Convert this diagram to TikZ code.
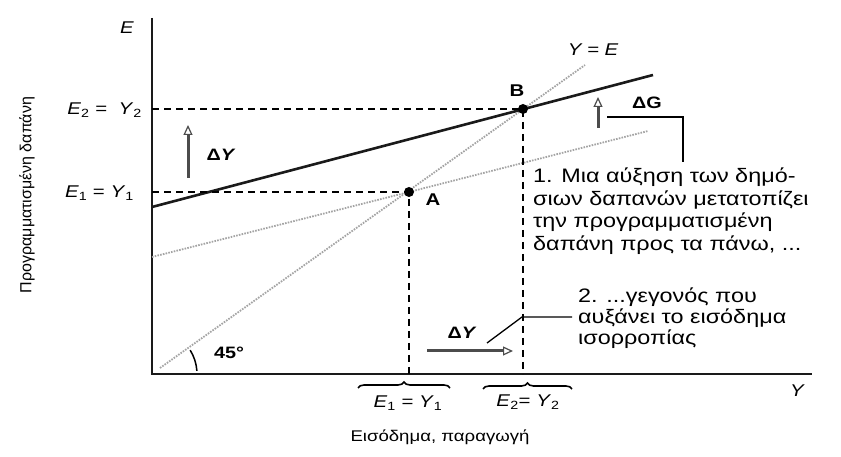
\documentclass[tikz,border=0pt]{standalone}
\usepackage{fontspec}
\setmainfont[FakeStretch=1.2]{Liberation Sans}
\newfontfamily\plainsf{Liberation Sans}
\usepackage{tikz}
\usetikzlibrary{arrows.meta,positioning,decorations.pathreplacing}
\usepackage{xcolor}
\definecolor{faint}{HTML}{A4A4A4}
\definecolor{darkline}{HTML}{1A1A1A}
\newcommand{\ivar}[2]{\textit{#1}\textsubscript{#2}}

\begin{document}
\begin{tikzpicture}[
  x=1pt, y=1pt,
  axis/.style={line width=2.2pt, color=darkline},
  guide/.style={line width=1.5pt, dash pattern=on 7pt off 5pt},
  faintline/.style={line width=1.8pt, color=faint, dash pattern=on 1.6pt off 1.2pt},
  spend/.style={line width=2.6pt, color=darkline},
  shiftarrow/.style={-{Triangle[open, length=10pt, width=9pt, line width=1.2pt]}, line width=3pt, color=black!70},
  leader/.style={line width=1.3pt},
  dot/.style={circle, fill=black, inner sep=0pt, minimum size=10pt},
  lbl/.style={font=\fontsize{17}{17}\selectfont, inner sep=1pt},
  bold/.style={font=\fontsize{16.5}{16.5}\selectfont\bfseries, inner sep=1pt},
  note/.style={font=\fontsize{19.5}{22.5}\selectfont, align=left, anchor=north west, inner sep=0pt},
  curly/.style={decorate, decoration={brace, amplitude=6pt}, line width=1.6pt},
]
\useasboundingbox (0,0) rectangle (841,457);

% axes
\coordinate (O) at (152,83);
\coordinate (ytop) at (152,439);
\coordinate (xend) at (812,83);
\draw[axis] (ytop) -- (O) -- (xend);
\node[lbl, font=\fontsize{17}{17}\selectfont\itshape] (Elab) at (127,429) {E};
\node[lbl, font=\fontsize{17}{17}\selectfont\itshape] (Ylab) at (797,66) {Y};

% equilibrium points
\coordinate (A) at (409,265);
\coordinate (B) at (523,348);

% 45 degree line and the two spending lines
\coordinate (d0) at (160,89);
\coordinate (d1) at (585,392);
\draw[faintline] (d0) -- (d1);
\coordinate (ad0) at (152,200);
\coordinate (ad1) at (648,326);
\draw[faintline] (ad0) -- (A) -- (ad1);
\coordinate (sp0) at (152,250);
\coordinate (sp1) at (653,382);
\draw[spend] (sp0) -- (sp1);

% dashed guides
\draw[guide] (O |- A) -- (A) -- (A |- O);
\draw[guide] (O |- B) -- (B) -- (B |- O);

\node[dot] (dotA) at (A) {};
\node[dot] (dotB) at (B) {};
\node[bold, font=\fontsize{17}{17}\selectfont\bfseries] (Alab) at (433,257) {A};
\node[bold, font=\fontsize{17}{17}\selectfont\bfseries] (Blab) at (517,366) {B};
\node[lbl, font=\fontsize{17}{17}\selectfont\itshape] (yeqe) at (593,407) {Y\,\,=\,\,E};

% left labels
\node[lbl, anchor=east] (E2lab) at (143,347) {\ivar{E}{2}\,\,=\,\,\,\,\ivar{Y}{2}};
\node[lbl, anchor=east] (E1lab) at (135,264) {\ivar{E}{1} = \ivar{Y}{1}};

% shifts
\coordinate (dy0) at (188,279);
\coordinate (dy1) at (188,332);
\draw[shiftarrow] (dy0) -- (dy1);
\node[bold] (dYlab) at (221,302) {Δ\textit{Y}};
\coordinate (dg0) at (598,329);
\coordinate (dg1) at (598,360);
\draw[shiftarrow] (dg0) -- (dg1);
\node[bold] (dGlab) at (647,354) {ΔG};
\coordinate (dx0) at (427,106);
\coordinate (dx1) at (513,106);
\draw[shiftarrow] (dx0) -- (dx1);
\node[bold] (dXlab) at (462,124) {Δ\textit{Y}};

% notes
\node[note] (note1) at (533,289) {1. Μια αύξηση των δημό-\\σιων δαπανών μετατοπίζει\\την προγραμματισμένη\\δαπάνη προς τα πάνω, ...};
\node[note, font=\fontsize{19.5}{21}\selectfont] (note2) at (578,169) {2. ...γεγονός που\\αυξάνει το εισόδημα\\ισορροπίας};
\coordinate (c1a) at (607,340);
\coordinate (c1b) at (683,340);
\coordinate (c1c) at (683,295);
\draw[leader] (c1a) -- (c1b) -- (c1c);
\coordinate (c2a) at (487,114);
\coordinate (c2b) at (522,140);
\coordinate (c2c) at (572,140);
\draw[leader] (c2a) -- (c2b) -- (c2c);

% 45 degrees
\draw[line width=1.5pt] ([shift={(32:45)}]O) arc[start angle=32, end angle=4, radius=45];
\node[bold] (deg) at (229,104) {45\textdegree};

% braces and axis titles
\draw[curly] (358,69) -- (450,69);
\node[lbl] (br1) at (408,54) {\ivar{E}{1} = \ivar{Y}{1}};
\draw[curly] (483,68) -- (572,68);
\node[lbl] (br2) at (528,55) {\ivar{E}{2}= \ivar{Y}{2}};
\node[lbl, font=\fontsize{15.5}{15.5}\selectfont] (xtitle) at (440,20) {Εισόδημα, παραγωγή};
\node[lbl, rotate=90, font=\plainsf\fontsize{16}{16}\selectfont] (ytitle) at (27,262) {Προγραμματισμένη δαπάνη};
\end{tikzpicture}
\end{document}
